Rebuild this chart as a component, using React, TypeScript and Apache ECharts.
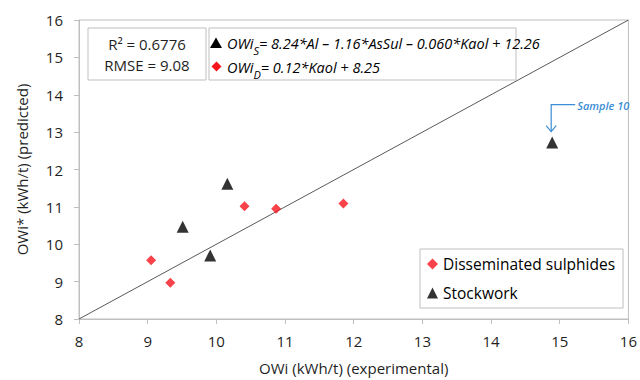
import React, { useEffect, useRef } from "react";
import * as echarts from "echarts";

// ---- data ----
const disseminated: [number, number][] = [
  [9.05, 9.57],
  [9.33, 8.97],
  [10.41, 11.02],
  [10.87, 10.95],
  [11.85, 11.09],
];
const stockwork: [number, number][] = [
  [9.51, 10.47],
  [9.91, 9.7],
  [10.16, 11.62],
  [14.89, 12.72],
];
const sample10: [number, number] = [14.89, 12.72];
const sample10Label = "Sample 10";
const identityLine: [number, number][] = [
  [8, 8],
  [16, 16],
];
const axisMin = 8;
const axisMax = 16;
const axisStep = 1;
const statsLines = ["R² = 0.6776", "RMSE = 9.08"];
const eqS = { lhs: "OWi", sub: "S", rhs: "= 8.24*Al – 1.16*AsSul – 0.060*Kaol + 12.26" };
const eqD = { lhs: "OWi", sub: "D", rhs: "= 0.12*Kaol + 8.25" };
const seriesNames = ["Disseminated sulphides", "Stockwork"];
const xName = "OWi (kWh/t) (experimental)";
const yName = "OWi* (kWh/t) (predicted)";

const FONT = "'Open Sans', 'Noto Sans', sans-serif";
const GRAY = "#bfbfbf";
const TXT = "#1f1f1f";
const RED = "#f5141b";
const BLUE = "#3a8dd6";

export default function App() {
  const ref = useRef<HTMLDivElement>(null);
  useEffect(() => {
    if (!ref.current) return;
    const chart = echarts.init(ref.current, undefined, { renderer: "svg" });
    const axisCommon = {
      type: "value" as const,
      min: axisMin,
      max: axisMax,
      interval: axisStep,
      splitLine: { show: false },
      axisLine: { show: true, lineStyle: { color: GRAY, width: 1 } },
      axisTick: { show: true, length: 5, lineStyle: { color: GRAY } },
      nameLocation: "middle" as const,
      nameTextStyle: { fontFamily: FONT, fontSize: 15, color: TXT },
    };
    chart.setOption({
      animation: false,
      backgroundColor: "#fff",
      textStyle: { fontFamily: FONT },
      grid: {
        left: 79,
        right: 8,
        top: 20,
        bottom: 57,
        show: true,
        borderColor: GRAY,
        borderWidth: 1,
      },
      xAxis: {
        ...axisCommon,
        name: xName,
        nameGap: 41,
        axisLabel: { fontFamily: FONT, fontSize: 15, color: TXT, margin: 14 },
      },
      yAxis: {
        ...axisCommon,
        name: yName,
        nameGap: 50,
        axisLabel: { fontFamily: FONT, fontSize: 15, color: TXT, margin: 16 },
      },
      legend: {
        data: seriesNames,
        orient: "vertical",
        left: 420,
        top: 249,
        padding: [7, 8, 7, 7],
        itemGap: 13,
        itemWidth: 11,
        itemHeight: 11,
        borderColor: GRAY,
        borderWidth: 1,
        backgroundColor: "#fff",
        textStyle: { fontFamily: FONT, fontSize: 15.5, color: "#000" },
      },
      series: [
        {
          type: "line",
          data: identityLine,
          symbol: "none",
          silent: true,
          lineStyle: { color: "#595959", width: 1 },
          z: 1,
        },
        {
          name: seriesNames[0],
          type: "scatter",
          data: disseminated,
          symbol: "diamond",
          symbolSize: 10,
          itemStyle: { color: RED },
          z: 3,
        },
        {
          name: seriesNames[1],
          type: "scatter",
          data: stockwork,
          symbol: "triangle",
          symbolSize: 12,
          itemStyle: { color: "#000" },
          z: 3,
        },
      ],
    });

    const p = chart.convertToPixel({ gridIndex: 0 }, sample10) as number[];
    const cx = p[0] - 1;
    const topY = p[1] - 38;
    const tipY = p[1] - 11;

    const eqRich = {
      i: { fontFamily: FONT, fontStyle: "italic", fontSize: 14.5, color: "#000", lineHeight: 18 },
      sub: {
        fontFamily: FONT,
        fontStyle: "italic",
        fontSize: 11,
        color: "#000",
        lineHeight: 12,
        padding: [15, 0, 0, 0],
      },
    };
    const eqText = (e: { lhs: string; sub: string; rhs: string }) =>
      `{i|${e.lhs}}{sub|${e.sub}}{i|${e.rhs}}`;

    chart.setOption({
      graphic: [
        {
          type: "rect",
          shape: { x: 88, y: 28, width: 118, height: 52 },
          style: { fill: "#fff", stroke: GRAY, lineWidth: 1 },
          z: 10,
        },
        {
          type: "text",
          x: 147,
          y: 44,
          style: {
            text: statsLines[0],
            fontFamily: FONT,
            fontSize: 15,
            fill: TXT,
            align: "center",
            verticalAlign: "middle",
          },
          z: 11,
        },
        {
          type: "text",
          x: 147,
          y: 65,
          style: {
            text: statsLines[1],
            fontFamily: FONT,
            fontSize: 15,
            fill: TXT,
            align: "center",
            verticalAlign: "middle",
          },
          z: 11,
        },
        {
          type: "rect",
          shape: { x: 209, y: 28, width: 307, height: 52 },
          style: { fill: "#fff", stroke: GRAY, lineWidth: 1 },
          z: 10,
        },
        {
          type: "polygon",
          shape: { points: [[216, 37.5], [222, 48], [210, 48]] },
          style: { fill: "#000" },
          z: 11,
        },
        {
          type: "polygon",
          shape: { points: [[216.5, 61.5], [221.5, 66.5], [216.5, 71.5], [211.5, 66.5]] },
          style: { fill: RED },
          z: 11,
        },
        {
          type: "text",
          x: 227,
          y: 43,
          style: {
            text: eqText(eqS),
            rich: eqRich,
            verticalAlign: "middle",
            align: "left",
          },
          z: 11,
        },
        {
          type: "text",
          x: 227,
          y: 67,
          style: {
            text: eqText(eqD),
            rich: eqRich,
            verticalAlign: "middle",
            align: "left",
          },
          z: 11,
        },
        {
          type: "polyline",
          shape: { points: [[cx + 24, topY], [cx, topY], [cx, tipY]] },
          style: { stroke: BLUE, lineWidth: 1.2, fill: "none" },
          z: 11,
        },
        {
          type: "polyline",
          shape: { points: [[cx - 5, tipY - 6], [cx, tipY], [cx + 5, tipY - 6]] },
          style: { stroke: BLUE, lineWidth: 1.2, fill: "none" },
          z: 11,
        },
        {
          type: "text",
          x: cx + 26,
          y: topY + 1,
          style: {
            text: sample10Label,
            fontFamily: FONT,
            fontStyle: "italic",
            fontWeight: 600,
            fontSize: 11,
            fill: BLUE,
            verticalAlign: "middle",
            align: "left",
          },
          z: 11,
        },
      ],
    });

    return () => chart.dispose();
  }, []);
  return (
    <div
      ref={ref}
      style={{ position: "absolute", left: 0, top: 0, width: 640, height: 380 }}
    />
  );
}
